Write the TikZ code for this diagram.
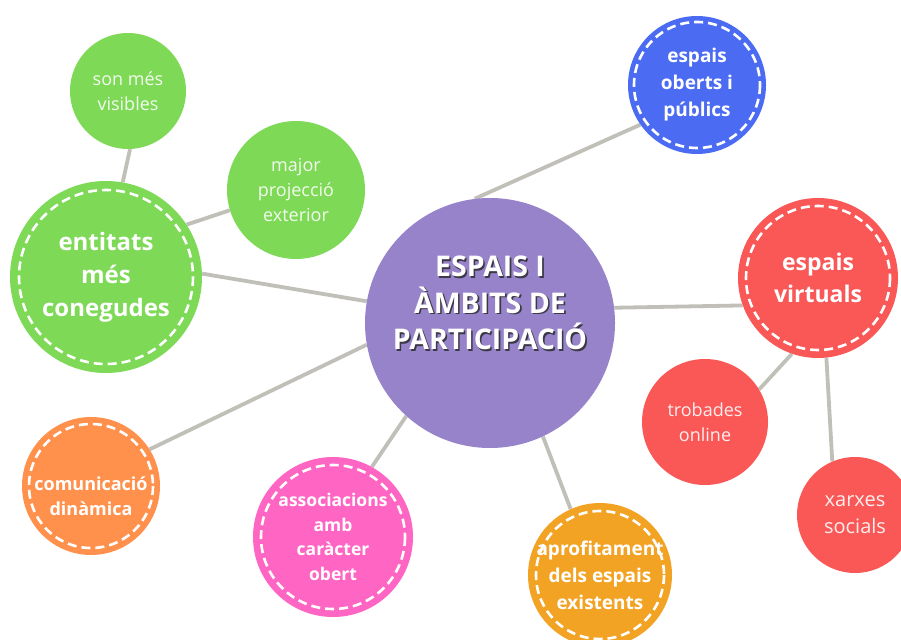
\documentclass[tikz,border=0pt]{standalone}
\usepackage{fontspec}
\setmainfont{Open Sans}
\definecolor{cgreen}{HTML}{7ED957}
\definecolor{cblue}{HTML}{4B6CF2}
\definecolor{cred}{HTML}{FA5757}
\definecolor{corange}{HTML}{FF914D}
\definecolor{cpink}{HTML}{FF66C4}
\definecolor{camber}{HTML}{F2A324}
\definecolor{cpurple}{HTML}{9783C9}
\definecolor{linegray}{HTML}{C0BFB8}
\definecolor{shadowc}{HTML}{3C3846}
\newcommand\shtxt[1]{\makebox[0pt][l]{\kern1.6pt\raisebox{-1.6pt}{\textcolor{shadowc}{#1}}}#1}
\pgfdeclarelayer{bg}
\pgfsetlayers{bg,main}
\begin{document}
\begin{tikzpicture}[x=1pt,y=-1pt,
  bub/.style={circle, inner sep=0pt, align=center, text=white},
  plaintxt/.style={font=\fontsize{18}{25}\selectfont},
  dashring/.style={draw=white, line width=2.6pt, dash pattern=on 9pt off 5pt},
  conn/.style={draw=linegray, line width=3.8pt},
]
\useasboundingbox (0,0) rectangle (901,639);

% central
\node[bub, fill=cpurple, minimum size=250pt] (cen) at (490,323) {};
\node[align=center, text=white, inner sep=0pt,
      font=\fontsize{28.5}{36.5}\selectfont\bfseries] (centxt) at ([yshift=19pt]cen.center)
  {\shtxt{ESPAIS I}\\\shtxt{ÀMBITS DE}\\\shtxt{PARTICIPACIÓ}};

% green group
\node[bub, fill=cgreen, minimum size=192pt, font=\fontsize{24}{33}\selectfont\bfseries] (ent) at (106,277) {entitats\\més\\conegudes};
\draw[dashring] (ent.center) circle (87);
\node[bub, fill=cgreen, minimum size=116pt, plaintxt, text=white!90!cgreen] (son) at (128,91) {son més\\visibles};
\node[bub, fill=cgreen, minimum size=138pt, plaintxt, text=white!90!cgreen] (maj) at (296,190) {major\\projecció\\exterior};

% blue
\node[bub, fill=cblue, minimum size=138pt, font=\fontsize{19}{27}\selectfont\bfseries] (blu) at (697,85) {espais\\oberts i\\públics};
\draw[dashring] (blu.center) circle (63);

% red group
\node[bub, fill=cred, minimum size=160pt, font=\fontsize{23}{32}\selectfont\bfseries] (vir) at (818,278) {espais\\virtuals};
\draw[dashring] (vir.center) circle (72);
\node[bub, fill=cred, minimum size=126pt, plaintxt, text=white!90!cred] (tro) at (705,422) {trobades\\online};
\node[bub, fill=cred, minimum size=116pt, font=\fontsize{20}{27}\selectfont, text=white!90!cred] (xar) at (855,515) {xarxes\\socials};

% amber
\node[bub, fill=camber, minimum size=144pt, font=\fontsize{19}{27}\selectfont\bfseries] (apr) at (600,575) {aprofitament\\dels espais\\existents};
\draw[dashring] (apr.center) circle (64);

% pink
\node[bub, fill=cpink, minimum size=160pt, font=\fontsize{17.5}{24.5}\selectfont\bfseries] (ass) at (333,537) {associacions\\amb\\caràcter\\obert};
\draw[dashring] (ass.center) circle (72);

% orange
\node[bub, fill=corange, minimum size=138pt, font=\fontsize{18}{25}\selectfont\bfseries] (com) at (91,486) {\rule{0pt}{34pt}comunicació\\dinàmica};
\draw[dashring] (com.center) circle (62);

\begin{pgfonlayer}{bg}
\draw[conn] (son.272) -- (ent.80);
\draw[conn] (maj.197) -- (ent.33);
\draw[conn] (ent.2) -- (cen.170);
\draw[conn] (blu.215) -- (cen.97);
\draw[conn] (cen.7) -- (vir.200);
\draw[conn] (vir.251) -- (tro.31);
\draw[conn] (vir.276) -- (xar.113);
\draw[conn] (cen.295) -- (apr.114);
\draw[conn] (cen.190) -- (com.32);
\draw[conn] (cen.228) -- (ass.61);
\end{pgfonlayer}
\end{tikzpicture}
\end{document}
